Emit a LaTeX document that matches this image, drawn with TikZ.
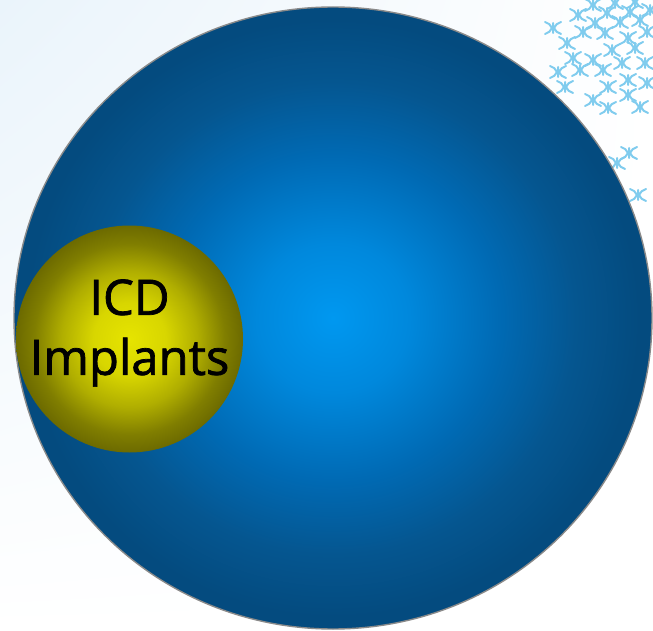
\documentclass[tikz,border=0pt]{standalone}
\usepackage{fontspec}
\setsansfont{Open Sans}[FakeBold=1.5]
\usepackage{xcolor}
\usetikzlibrary{shapes.geometric,shadings,positioning}

\definecolor{bgtint}{HTML}{EAF4FB}
\definecolor{starblue}{HTML}{80CCEE}
\definecolor{rimgray}{HTML}{8A8A8A}
\definecolor{spherein}{HTML}{0098F0}
\definecolor{spherehi}{HTML}{0088DC}
\definecolor{spheremid}{HTML}{006AB4}
\definecolor{spherelow}{HTML}{055690}
\definecolor{sphereout}{HTML}{044B7F}
\definecolor{icdin}{HTML}{E6E400}
\definecolor{icdhi}{HTML}{D8D600}
\definecolor{icdmid}{HTML}{B0AE00}
\definecolor{icdlow}{HTML}{807E00}
\definecolor{icdout}{HTML}{6C6A00}

\pgfdeclareradialshading{bluesphere}{\pgfpoint{0bp}{0bp}}{color(0bp)=(spherein); color(6bp)=(spherehi); color(13bp)=(spheremid); color(19bp)=(spherelow); color(24bp)=(sphereout); color(50bp)=(sphereout)}
\pgfdeclareradialshading{icdsphere}{\pgfpoint{0bp}{0bp}}{color(0bp)=(icdin); color(8bp)=(icdhi); color(15bp)=(icdmid); color(21bp)=(icdlow); color(25bp)=(icdout); color(50bp)=(icdout)}

\tikzset{
  xstar/.pic={
    \draw[starblue, line width=2pt, line cap=round]
      (-8,-6) to[bend left=25] (-1,0) to[bend left=25] (-8,6)
      (8,-6) to[bend right=25] (1,0) to[bend right=25] (8,6)
      (0,-5) -- (0,5);
  }
}

\begin{document}
\begin{tikzpicture}[
  x=1pt, y=-1pt,
  outer/.style={ellipse, draw=rimgray, line width=1.4pt, shading=bluesphere, minimum width=638pt, minimum height=622pt, inner sep=0pt},
  icd/.style={circle, shading=icdsphere, minimum size=227pt, inner sep=0pt},
  lbl/.style={align=center, text=black, font=\sffamily\fontsize{49}{60}\selectfont}
]
\useasboundingbox (0,0) rectangle (653,631);
\shade[upper left=bgtint, upper right=white, lower left=white, lower right=white] (0,0) rectangle (653,631);

% star pattern, top right corner
\foreach \p in {(593,5),(615,3),(635,2),(578,15),(607,13),(630,12),(650,10),
  (553,28),(595,23),(620,22),(640,20),(567,43),(583,32),(605,33),(628,38),(647,32),
  (573,58),(593,60),(612,50),(635,48),(558,72),(580,70),(603,70),(622,63),(645,63),
  (565,87),(608,87),(628,80),(647,83),(593,100),(628,95),(608,108),(640,107),
  (629,153),(617,163),(638,195)}
  \pic at \p {xstar};

\node[outer] (sphere) at (333,318) {};
\node[icd] (implants) at (129.5,339) {};
\node[lbl] (implantstext) at ([yshift=6pt]implants.center) {ICD\\Implants};
\end{tikzpicture}
\end{document}
